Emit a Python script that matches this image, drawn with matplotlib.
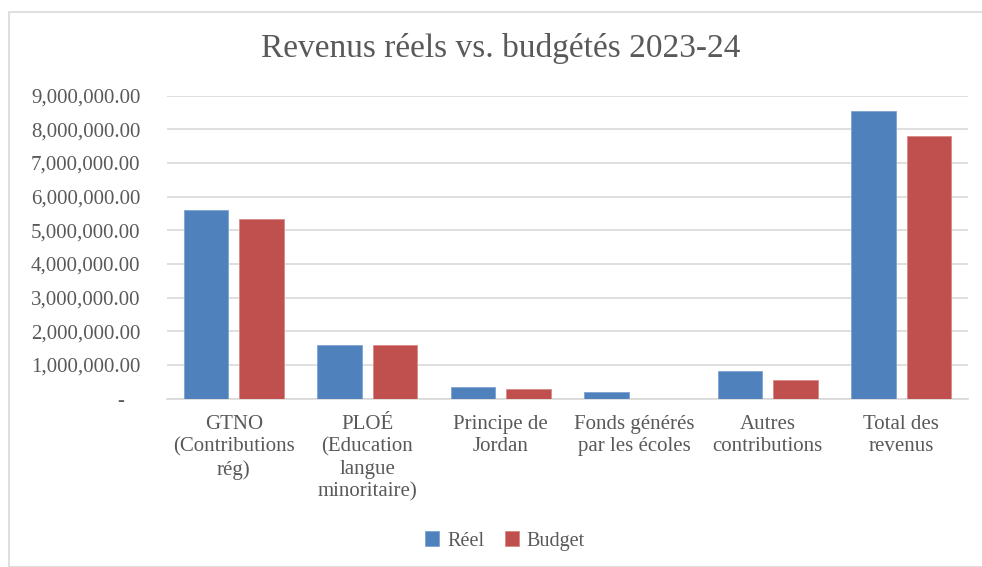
import matplotlib
matplotlib.use("Agg")
import matplotlib.pyplot as plt
import numpy as np
from matplotlib.ticker import FuncFormatter
from matplotlib.patches import Rectangle

categories = [
    "GTNO\n(Contributions\nrég)",
    "PLOÉ\n(Education\nlangue\nminoritaire)",
    "Principe de\nJordan",
    "Fonds générés\npar les écoles",
    "Autres\ncontributions",
    "Total des\nrevenus",
]
reel = [5590000, 1600000, 335000, 187000, 830000, 8550000]
budget = [5345000, 1585000, 276000, 0, 564000, 7790000]
series_names = ["Réel", "Budget"]

BLUE = "#4F81BD"
RED = "#C0504D"
TEXT = "#595959"
GRID = "#D9D9D9"

plt.rcParams["font.family"] = ["Liberation Serif", "DejaVu Serif"]

fig = plt.figure(figsize=(9.82, 5.67), dpi=100)
fig.patches.append(Rectangle((9 / 982, 0), 1, 1 - 12 / 567, transform=fig.transFigure,
                             fill=False, edgecolor=GRID, linewidth=1.2))

ax = fig.add_axes([167 / 982, 1 - 398.5 / 567, (968 - 167) / 982, (398.5 - 95.5) / 567])

x = np.arange(len(categories))
w = 0.333
off = 0.208
ax.bar(x - off, reel, w, color=BLUE, edgecolor="#7FA3D3", linewidth=0.6, label=series_names[0], zorder=3)
ax.bar(x + off, budget, w, color=RED, edgecolor="#D98A88", linewidth=0.6, label=series_names[1], zorder=3)

ax.set_xlim(-0.5, len(categories) - 0.5)
ax.set_ylim(0, 9000000)
ax.set_yticks(np.arange(0, 9000001, 1000000))


def fmt(v, pos):
    if v == 0:
        return "-   "
    return f"{v:,.2f}"


ax.yaxis.set_major_formatter(FuncFormatter(fmt))
ax.grid(axis="y", color=GRID, linewidth=1.2, zorder=0)
ax.set_axisbelow(True)
for s in ["top", "right", "left"]:
    ax.spines[s].set_visible(False)
ax.spines["bottom"].set_color(GRID)
ax.spines["bottom"].set_linewidth(1.2)
ax.tick_params(axis="both", length=0, labelsize=15, colors=TEXT)
ax.tick_params(axis="y", pad=19)
ax.tick_params(axis="x", pad=12)
ax.set_xticks(x)
ax.set_xticklabels(categories, linespacing=1.22, va="top")

fig.text(501 / 982, 1 - 48 / 567, "Revenus réels vs. budgétés 2023-24",
         ha="center", va="center", fontsize=24, color=TEXT)

leg = ax.legend(loc="center", bbox_to_anchor=(505 / 982, 1 - 541 / 567), bbox_transform=fig.transFigure,
                ncol=2, frameon=False, fontsize=14.5, handlelength=0.7, handleheight=0.7,
                handletextpad=0.4, columnspacing=1.0)
for t in leg.get_texts():
    t.set_color(TEXT)

fig.savefig("out.png", dpi=100, facecolor="white")
